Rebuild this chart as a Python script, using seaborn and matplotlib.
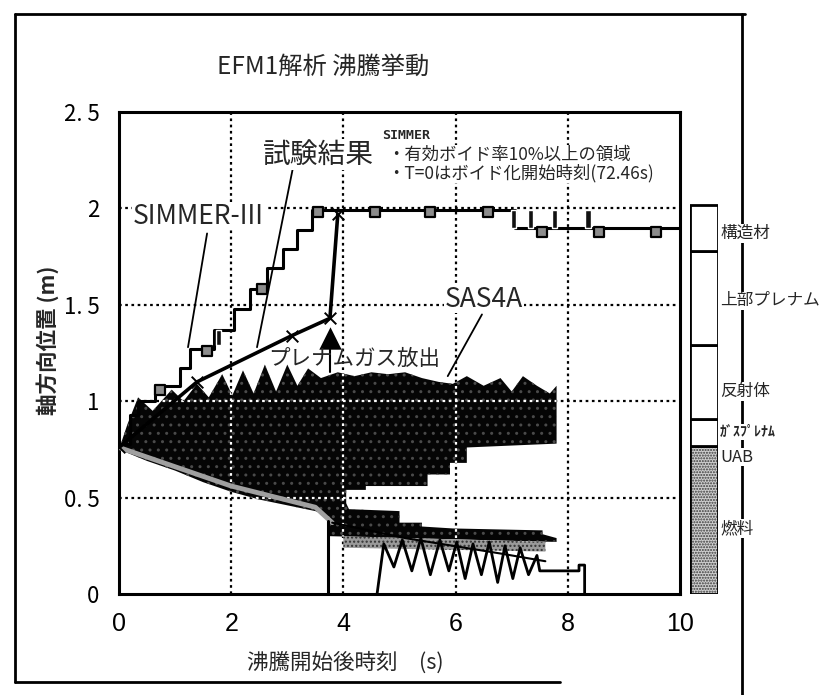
import numpy as np
import matplotlib
matplotlib.use("Agg")
import matplotlib.pyplot as plt
from matplotlib.lines import Line2D
import seaborn as sns

# ---- SIMMER-III: upper edge of the region with effective void fraction >= 10 % ----
simmer_x = [0.0, 0.20, 0.33, 0.64, 1.08, 1.27, 1.70, 2.05, 2.33, 2.63, 2.92, 3.17, 3.44, 7.05, 10.0]
simmer_y = [0.78, 0.93, 1.00, 1.08, 1.17, 1.27, 1.37, 1.48, 1.58, 1.69, 1.79, 1.89, 1.99, 1.90, 1.90]
simmer_mark_x = [0.73, 1.57, 2.55, 3.55, 4.57, 5.55, 6.57, 7.54, 8.55, 9.57]
simmer_mark_y = [1.06, 1.26, 1.58, 1.98, 1.98, 1.98, 1.98, 1.88, 1.88, 1.88]
cell_x = [1.77, 7.03, 7.33, 7.77, 8.36]
cell_bottom = [1.29, 1.90, 1.90, 1.90, 1.90]
cell_height = [0.08, 0.09, 0.09, 0.09, 0.09]

# ---- test result (void boundaries) ----
test_up_x = [0.0, 1.39, 3.08, 3.76, 3.90]
test_up_y = [0.76, 1.10, 1.34, 1.43, 1.97]
test_low_x = [0.0, 2.0, 3.5, 3.8]
test_low_y = [0.76, 0.56, 0.45, 0.37]
test_tail_x = [3.8, 5.1, 6.8, 7.6]
test_tail_y = [0.37, 0.29, 0.21, 0.17]
test_drop_x = [3.73, 3.73]
test_drop_y = [0.38, 0.0]
gas_x = [3.76, 3.76]
gas_y = [1.15, 1.33]

# ---- SAS4A: main void region ----
sas_top_x = [0, 0.15, 0.34, 0.6, 0.94, 1.15, 1.39, 1.6, 1.84, 2.02, 2.21, 2.4, 2.6, 2.8,
             3.0, 3.18, 3.37, 3.6, 3.9, 4.2, 4.5, 4.8, 5.1, 5.4, 5.7, 5.95, 6.2, 6.5,
             6.8, 7.0, 7.2, 7.45, 7.68, 7.8, 7.8]
sas_top_y = [0.75, 0.88, 1.02, 0.95, 1.06, 1.0, 1.09, 1.02, 1.14, 1.03, 1.16, 1.04, 1.19, 1.05,
             1.19, 1.08, 1.17, 1.12, 1.15, 1.13, 1.15, 1.14, 1.15, 1.12, 1.10, 1.09, 1.13, 1.08,
             1.12, 1.05, 1.13, 1.08, 1.04, 1.08, 0.78]
sas_bot_x = [0, 0.5, 1.0, 1.5, 2.0, 2.5, 3.0, 3.5, 3.75, 4.05, 4.05, 4.4, 4.4, 5.5, 5.5,
             5.9, 5.9, 6.2, 6.2, 7.8]
sas_bot_y = [0.75, 0.69, 0.64, 0.58, 0.53, 0.49, 0.46, 0.43, 0.40, 0.40, 0.54, 0.54, 0.56, 0.56, 0.62,
             0.62, 0.68, 0.68, 0.76, 0.78]

# ---- SAS4A: lower void band ----
low_top_x = [3.75, 4.05, 4.1, 5.0, 5.0, 5.4, 5.4, 5.95, 7.55, 7.55, 7.8, 7.8]
low_top_y = [0.40, 0.47, 0.44, 0.43, 0.37, 0.37, 0.35, 0.34, 0.33, 0.31, 0.29, 0.22]
low_bot_x = [3.75, 7.8]
low_bot_y = [0.30, 0.27]
osc_x = [4.6, 4.72, 4.9, 5.05, 5.22, 5.38, 5.55, 5.72, 5.88, 6.02, 6.17, 6.31, 6.46,
         6.6, 6.75, 6.88, 7.02, 7.15, 7.3, 7.45, 7.5, 8.2, 8.2, 8.3, 8.3]
osc_y = [0.0, 0.26, 0.14, 0.28, 0.12, 0.29, 0.10, 0.28, 0.12, 0.27, 0.08, 0.26, 0.10,
         0.27, 0.06, 0.25, 0.08, 0.24, 0.10, 0.20, 0.12, 0.12, 0.15, 0.15, 0.0]

# ---- axial structure column ----
zone_bottom = [0.0, 0.77, 0.91, 1.29, 1.78]
zone_top = [0.77, 0.91, 1.29, 1.78, 2.02]
zone_label = ["構造材", "上部プレナム", "反射体", "ｶﾞｽﾌﾟﾚﾅﾑ", "UAB", "燃料"]
zone_label_y = [1.87, 1.52, 1.05, 0.84, 0.71, 0.34]
zone_label_size = [12, 12, 12, 10, 12, 12]

xticks = [0, 2, 4, 6, 8, 10]
xtick_labels = ["0", "2", "4", "6", "8", "10"]
yticks = [0, 0.5, 1, 1.5, 2, 2.5]
ytick_labels = ["0", "0. 5", "1", "1. 5", "2", "2. 5"]

sns.set_theme(style="white")
plt.rcParams["font.family"] = ["Noto Sans CJK JP", "DejaVu Sans"]

W, H = 839, 695
fig = plt.figure(figsize=(W / 100, H / 100), dpi=100)
fig.patch.set_facecolor("white")
ax = fig.add_axes([119 / W, 1 - 594 / H, 561 / W, 482 / H])
ax.set_xlim(0, 10)
ax.set_ylim(0, 2.5)

# dotted grid
grid_style = dict(ls=(0, (1.2, 1.6)), lw=1.6)
for gx in [2, 4, 6, 8]:
    ax.axvline(gx, color="black", zorder=1, **grid_style)
for gy in [0.5, 1.0, 1.5, 2.0]:
    ax.axhline(gy, color="black", zorder=1, **grid_style)

# SAS4A void regions
main_poly = ax.fill(np.r_[sas_top_x, sas_bot_x[::-1]], np.r_[sas_top_y, sas_bot_y[::-1]],
                    facecolor="#050505", edgecolor="#4a4a4a", hatch="..", lw=0, zorder=2)[0]
low_poly = ax.fill(np.r_[low_top_x, low_bot_x[::-1]], np.r_[low_top_y, low_bot_y[::-1]],
                   facecolor="#050505", edgecolor="#4a4a4a", hatch="..", lw=0, zorder=2)[0]
ax.fill_between([4.0, 7.6], [0.30, 0.27], [0.24, 0.22], facecolor="#9a9a9a",
                edgecolor="#333333", hatch="....", lw=0, zorder=2)
# grid seen through the black regions
for poly in (main_poly, low_poly):
    for gx in [2, 4, 6, 8]:
        ln = ax.axvline(gx, color="white", zorder=2.5, **grid_style)
        ln.set_clip_path(poly)
    for gy in [0.5, 1.0, 1.5, 2.0]:
        ln = ax.axhline(gy, color="white", zorder=2.5, **grid_style)
        ln.set_clip_path(poly)

sns.lineplot(x=osc_x, y=osc_y, estimator=None, sort=False, color="black", lw=2.0, ax=ax, zorder=3)

# test result
sns.lineplot(x=test_low_x, y=test_low_y, estimator=None, sort=False, color="#a0a0a0", lw=3.5,
             ax=ax, zorder=3)
sns.lineplot(x=test_tail_x, y=test_tail_y, estimator=None, sort=False, color="black", lw=1.5,
             ax=ax, zorder=3)
sns.lineplot(x=test_drop_x, y=test_drop_y, estimator=None, sort=False, color="black", lw=2.2,
             ax=ax, zorder=3)

# SIMMER-III staircase
sns.lineplot(x=simmer_x, y=simmer_y, estimator=None, sort=False, drawstyle="steps-post",
             color="black", lw=2.2, ax=ax, zorder=4)
ax.bar(cell_x, cell_height, bottom=cell_bottom, width=0.09, color="#111111", zorder=4)
sns.scatterplot(x=simmer_mark_x, y=simmer_mark_y, marker="s", s=50, color="#8c8c8c",
                edgecolor="black", linewidth=1.6, ax=ax, zorder=5)

sns.lineplot(x=test_up_x, y=test_up_y, estimator=None, sort=False, color="black", lw=2.6,
             ax=ax, zorder=5)
sns.scatterplot(x=test_up_x, y=test_up_y, marker="x", s=70, color="black", linewidth=1.4,
                ax=ax, zorder=6)
sns.lineplot(x=gas_x, y=gas_y, estimator=None, sort=False, color="black", lw=1.5, ax=ax, zorder=5)
sns.scatterplot(x=[gas_x[1]], y=[gas_y[1]], marker="^", s=260, color="black", linewidth=0,
                ax=ax, zorder=6)

# annotations
ax.text(0.25, 1.96, "SIMMER-III", fontsize=19, va="center", ha="left", zorder=7,
        bbox=dict(facecolor="white", edgecolor="none", pad=0.5))
sns.lineplot(x=[1.57, 1.23], y=[1.87, 1.28], estimator=None, sort=False, color="black", lw=1.3,
             ax=ax, zorder=6)
ax.text(2.56, 2.28, "試験結果", fontsize=20, va="center", ha="left", zorder=7,
        bbox=dict(facecolor="white", edgecolor="none", pad=0.5))
sns.lineplot(x=[3.10, 2.46], y=[2.21, 1.28], estimator=None, sort=False, color="black", lw=1.3,
             ax=ax, zorder=6)
ax.text(4.69, 2.38, "SIMMER", fontsize=9.5, fontweight="bold", va="center", ha="left", zorder=7,
        family="DejaVu Sans Mono")
ax.text(4.78, 2.28, "・有効ボイド率10%以上の領域", fontsize=12.5, va="center", ha="left", zorder=7,
        bbox=dict(facecolor="white", edgecolor="none", pad=0.3))
ax.text(4.78, 2.18, "・T=0はボイド化開始時刻(72.46s)", fontsize=12.5, va="center", ha="left", zorder=7,
        bbox=dict(facecolor="white", edgecolor="none", pad=0.3))
ax.text(5.81, 1.53, "SAS4A", fontsize=19, va="center", ha="left", zorder=7,
        bbox=dict(facecolor="white", edgecolor="none", pad=0.3))
sns.lineplot(x=[6.47, 5.86], y=[1.45, 1.13], estimator=None, sort=False, color="black", lw=1.3,
             ax=ax, zorder=6)
ax.text(4.19, 1.22, "プレナムガス放出", fontsize=15.5, va="center", ha="center", zorder=7)

ax.set_xticks(xticks)
ax.set_xticklabels(xtick_labels, fontsize=18, family=["Liberation Sans", "DejaVu Sans"])
ax.set_yticks(yticks)
ax.set_yticklabels(ytick_labels, fontsize=16)
ax.tick_params(axis="both", length=0, colors="black")
ax.tick_params(axis="x", pad=13)
ax.tick_params(axis="y", pad=14)
for sp in ax.spines.values():
    sp.set_color("black")
    sp.set_linewidth(2.2)
ax.set_xlabel("")
ax.set_ylabel("")

fig.text(217 / W, 1 - 67 / H, "EFM1解析 沸騰挙動", fontsize=17.5, ha="left", va="center")
fig.text(48 / W, 1 - 340 / H, "軸方向位置 (m)", fontsize=15.5, fontweight="bold", rotation=90,
         ha="center", va="center")
fig.text(345 / W, 1 - 663 / H, "沸騰開始後時刻　(s)", fontsize=15.5, ha="center", va="center")

# axial structure column
axb = fig.add_axes([690 / W, 1 - 594 / H, 28 / W, 482 / H])
axb.set_xlim(0, 1)
axb.set_ylim(0, 2.5)
axb.axis("off")
heights = [t - b for t, b in zip(zone_top, zone_bottom)]
colors = ["#cfcfcf", "white", "white", "white", "white"]
hatches = ["......", "", "", "", ""]
edges = ["#3a3a3a", "black", "black", "black", "black"]
for b, h, c, ht, ec in zip(zone_bottom, heights, colors, hatches, edges):
    axb.bar(0.5, h, bottom=b, width=1.0, facecolor=c, edgecolor=ec, hatch=ht, lw=0)
    axb.bar(0.5, h, bottom=b, width=1.0, facecolor="none", edgecolor="black", lw=2.0)
for lab, ly, fs in zip(zone_label, zone_label_y, zone_label_size):
    axb.text(1.08, ly, lab, fontsize=fs, fontweight="bold" if fs < 11 else "normal",
             ha="left", va="center", zorder=5, clip_on=False,
             bbox=dict(facecolor="white", edgecolor="none", pad=0.5))

# outer frame and separator
def fline(x0, y0, x1, y1, lw=2.0):
    fig.add_artist(Line2D([x0 / W, x1 / W], [1 - y0 / H, 1 - y1 / H], transform=fig.transFigure,
                          color="black", lw=lw, zorder=0))

fline(15, 14, 745, 14)
fline(15, 14, 15, 682)
fline(15, 682, 560, 682)
fline(742, 14, 742, 695)

fig.savefig("out.png", dpi=100, facecolor="white")
